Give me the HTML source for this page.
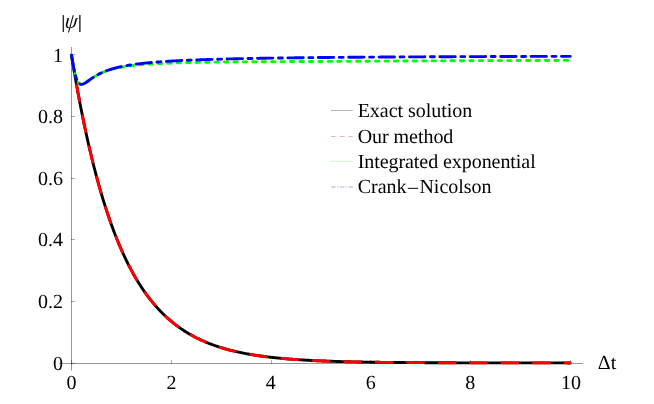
<!DOCTYPE html>
<html><head><meta charset="utf-8"><title>plot</title><style>
html,body{margin:0;padding:0;background:#fff;}
body{width:654px;height:404px;overflow:hidden;position:relative;font-family:"Liberation Serif",serif;}
svg{position:absolute;left:0;top:0;will-change:transform;}
text{font-family:"Liberation Serif",serif;font-size:20px;fill:#000;text-rendering:geometricPrecision;}
</style></head><body>
<svg width="654" height="404" viewBox="0 0 654 404">
<rect width="654" height="404" fill="#fff"/>
<g stroke="#000" stroke-opacity="0.4" stroke-width="1" fill="none">
<line x1="59" y1="363.5" x2="583" y2="363.5"/>
<line x1="71.5" y1="47" x2="71.5" y2="370.6"/>
</g>
<g stroke="#000" stroke-opacity="0.33" stroke-width="1" fill="none">
<line x1="71.5" y1="364" x2="71.5" y2="360"/><line x1="171.5" y1="364" x2="171.5" y2="360"/><line x1="271.5" y1="364" x2="271.5" y2="360"/><line x1="370.5" y1="364" x2="370.5" y2="360"/><line x1="470.5" y1="364" x2="470.5" y2="360"/><line x1="570.5" y1="364" x2="570.5" y2="360"/>
<line x1="71" y1="363.5" x2="75" y2="363.5"/><line x1="71" y1="301.5" x2="75" y2="301.5"/><line x1="71" y1="239.5" x2="75" y2="239.5"/><line x1="71" y1="178.5" x2="75" y2="178.5"/><line x1="71" y1="116.5" x2="75" y2="116.5"/><line x1="71" y1="54.5" x2="75" y2="54.5"/>
</g>
<g fill="none" stroke-width="2.88" stroke-linecap="round" stroke-linejoin="round">
<path d="M71.50 55.10 L71.50 55.11 L71.51 55.15 L71.52 55.21 L71.53 55.30 L71.55 55.41 L71.57 55.54 L71.60 55.71 L71.63 55.89 L71.66 56.10 L71.70 56.33 L71.74 56.59 L71.79 56.88 L71.84 57.18 L71.89 57.51 L71.95 57.87 L72.01 58.25 L72.08 58.65 L72.15 59.08 L72.22 59.53 L72.30 60.01 L72.38 60.50 L72.47 61.03 L72.56 61.57 L72.65 62.14 L72.75 62.73 L72.85 63.35 L72.96 63.98 L73.07 64.64 L73.18 65.32 L73.30 66.03 L73.43 66.75 L73.55 67.50 L73.68 68.27 L73.82 69.07 L73.95 69.88 L74.10 70.71 L74.24 71.57 L74.39 72.44 L74.55 73.34 L74.71 74.26 L74.87 75.20 L75.03 76.15 L75.20 77.13 L75.38 78.13 L75.56 79.14 L75.74 80.18 L75.93 81.23 L76.12 82.31 L76.31 83.40 L76.51 84.51 L76.71 85.63 L76.92 86.78 L77.13 87.94 L77.34 89.12 L77.56 90.32 L77.78 91.53 L78.01 92.76 L78.24 94.00 L78.47 95.26 L78.71 96.54 L78.95 97.83 L79.20 99.14 L79.45 100.46 L79.71 101.79 L79.96 103.14 L80.23 104.51 L80.49 105.88 L80.76 107.27 L81.04 108.68 L81.32 110.09 L81.60 111.52 L81.88 112.96 L82.18 114.41 L82.47 115.87 L82.77 117.35 L83.07 118.83 L83.38 120.33 L83.69 121.83 L84.00 123.35 L84.32 124.88 L84.64 126.41 L84.97 127.95 L85.30 129.50 L85.63 131.07 L85.97 132.63 L86.32 134.21 L86.66 135.79 L87.01 137.38 L87.37 138.98 L87.73 140.59 L88.09 142.20 L88.46 143.81 L88.83 145.44 L89.20 147.06 L89.58 148.70 L89.96 150.33 L90.35 151.97 L90.74 153.62 L91.13 155.27 L91.53 156.92 L91.93 158.58 L92.34 160.24 L92.75 161.90 L93.17 163.57 L93.59 165.23 L94.01 166.90 L94.43 168.57 L94.87 170.24 L95.30 171.91 L95.74 173.59 L96.18 175.26 L96.63 176.93 L97.08 178.61 L97.53 180.28 L97.99 181.95 L98.46 183.62 L98.92 185.29 L99.39 186.96 L99.87 188.63 L100.35 190.29 L100.83 191.96 L101.32 193.62 L101.81 195.28 L102.30 196.93 L102.80 198.58 L103.30 200.23 L103.81 201.88 L104.32 203.52 L104.84 205.15 L105.35 206.79 L105.88 208.42 L106.40 210.04 L106.93 211.66 L107.47 213.27 L108.01 214.88 L108.55 216.48 L109.10 218.08 L109.65 219.67 L110.20 221.26 L110.76 222.83 L111.33 224.41 L111.89 225.97 L112.46 227.53 L113.04 229.08 L113.62 230.63 L114.20 232.17 L114.79 233.70 L115.38 235.22 L115.97 236.73 L116.57 238.24 L117.18 239.74 L117.78 241.23 L118.39 242.71 L119.01 244.18 L119.63 245.65 L120.25 247.10 L120.88 248.55 L121.51 249.99 L122.14 251.42 L122.78 252.84 L123.43 254.25 L124.07 255.65 L124.72 257.04 L125.38 258.42 L126.04 259.79 L126.70 261.16 L127.37 262.51 L128.04 263.85 L128.71 265.18 L129.39 266.50 L130.08 267.82 L130.76 269.12 L131.45 270.41 L132.15 271.69 L132.85 272.96 L133.55 274.22 L134.26 275.47 L134.97 276.71 L135.68 277.93 L136.40 279.15 L137.13 280.36 L137.85 281.55 L138.59 282.74 L139.32 283.91 L140.06 285.07 L140.80 286.23 L141.55 287.37 L142.30 288.50 L143.06 289.61 L143.82 290.72 L144.58 291.82 L145.35 292.91 L146.12 293.98 L146.89 295.04 L147.67 296.10 L148.46 297.14 L149.24 298.17 L150.03 299.19 L150.83 300.20 L151.63 301.19 L152.43 302.18 L153.24 303.16 L154.05 304.12 L154.87 305.07 L155.68 306.02 L156.51 306.95 L157.34 307.87 L158.17 308.78 L159.00 309.68 L159.84 310.57 L160.68 311.45 L161.53 312.32 L162.38 313.17 L163.24 314.02 L164.10 314.85 L164.96 315.68 L165.83 316.49 L166.70 317.30 L167.58 318.09 L168.46 318.88 L169.34 319.65 L170.23 320.41 L171.12 321.17 L172.01 321.91 L172.91 322.64 L173.82 323.37 L174.72 324.08 L175.63 324.79 L176.55 325.48 L177.47 326.16 L178.39 326.84 L179.32 327.50 L180.25 328.16 L181.19 328.81 L182.13 329.44 L183.07 330.07 L184.02 330.69 L184.97 331.30 L185.93 331.90 L186.88 332.49 L187.85 333.07 L188.82 333.65 L189.79 334.21 L190.76 334.77 L191.74 335.32 L192.73 335.86 L193.71 336.39 L194.71 336.91 L195.70 337.43 L196.70 337.93 L197.70 338.43 L198.71 338.92 L199.72 339.40 L200.74 339.88 L201.76 340.34 L202.78 340.80 L203.81 341.26 L204.84 341.70 L205.88 342.14 L206.92 342.57 L207.96 342.99 L209.01 343.40 L210.06 343.81 L211.12 344.21 L212.18 344.61 L213.24 344.99 L214.31 345.37 L215.38 345.75 L216.45 346.11 L217.53 346.47 L218.62 346.83 L219.71 347.18 L220.80 347.52 L221.89 347.85 L222.99 348.18 L224.10 348.51 L225.20 348.82 L226.32 349.13 L227.43 349.44 L228.55 349.74 L229.68 350.03 L230.80 350.32 L231.93 350.61 L233.07 350.88 L234.21 351.16 L235.35 351.42 L236.50 351.69 L237.65 351.94 L238.81 352.20 L239.97 352.44 L241.13 352.68 L242.30 352.92 L243.47 353.15 L244.65 353.38 L245.83 353.61 L247.01 353.83 L248.20 354.04 L249.39 354.25 L250.59 354.46 L251.79 354.66 L252.99 354.86 L254.20 355.05 L255.41 355.24 L256.63 355.43 L257.85 355.61 L259.07 355.79 L260.30 355.96 L261.53 356.13 L262.77 356.30 L264.01 356.46 L265.25 356.62 L266.50 356.78 L267.75 356.93 L269.01 357.08 L270.27 357.23 L271.53 357.37 L272.80 357.51 L274.07 357.65 L275.35 357.78 L276.63 357.91 L277.91 358.04 L279.20 358.16 L280.49 358.29 L281.79 358.41 L283.09 358.52 L284.39 358.64 L285.70 358.75 L287.01 358.86 L288.33 358.96 L289.65 359.07 L290.97 359.17 L292.30 359.27 L293.63 359.37 L294.97 359.46 L296.31 359.55 L297.65 359.64 L299.00 359.73 L300.35 359.82 L301.71 359.90 L303.07 359.98 L304.43 360.06 L305.80 360.14 L307.18 360.22 L308.55 360.29 L309.93 360.37 L311.32 360.44 L312.70 360.51 L314.10 360.57 L315.49 360.64 L316.89 360.70 L318.30 360.76 L319.71 360.83 L321.12 360.88 L322.53 360.94 L323.95 361.00 L325.38 361.05 L326.81 361.11 L328.24 361.16 L329.68 361.21 L331.12 361.26 L332.56 361.31 L334.01 361.36 L335.46 361.40 L336.92 361.45 L338.38 361.49 L339.84 361.53 L341.31 361.57 L342.78 361.61 L344.26 361.65 L345.74 361.69 L347.22 361.73 L348.71 361.76 L350.20 361.80 L351.70 361.83 L353.20 361.86 L354.71 361.90 L356.21 361.93 L357.73 361.96 L359.24 361.99 L360.76 362.02 L362.29 362.05 L363.82 362.07 L365.35 362.10 L366.88 362.12 L368.43 362.15 L369.97 362.17 L371.52 362.20 L373.07 362.22 L374.63 362.24 L376.19 362.27 L377.75 362.29 L379.32 362.31 L380.89 362.33 L382.47 362.35 L384.05 362.37 L385.63 362.38 L387.22 362.40 L388.82 362.42 L390.41 362.44 L392.01 362.45 L393.62 362.47 L395.23 362.48 L396.84 362.50 L398.46 362.51 L400.08 362.53 L401.70 362.54 L403.33 362.55 L404.96 362.57 L406.60 362.58 L408.24 362.59 L409.88 362.60 L411.53 362.61 L413.18 362.62 L414.84 362.63 L416.50 362.64 L418.17 362.65 L419.84 362.66 L421.51 362.67 L423.18 362.68 L424.87 362.69 L426.55 362.70 L428.24 362.71 L429.93 362.72 L431.63 362.72 L433.33 362.73 L435.03 362.74 L436.74 362.75 L438.46 362.75 L440.17 362.76 L441.89 362.77 L443.62 362.77 L445.35 362.78 L447.08 362.78 L448.82 362.79 L450.56 362.80 L452.30 362.80 L454.05 362.81 L455.80 362.81 L457.56 362.82 L459.32 362.82 L461.09 362.83 L462.85 362.83 L464.63 362.83 L466.40 362.84 L468.18 362.84 L469.97 362.85 L471.76 362.85 L473.55 362.85 L475.35 362.86 L477.15 362.86 L478.95 362.86 L480.76 362.87 L482.58 362.87 L484.39 362.87 L486.21 362.87 L488.04 362.88 L489.87 362.88 L491.70 362.88 L493.54 362.88 L495.38 362.89 L497.22 362.89 L499.07 362.89 L500.93 362.89 L502.78 362.90 L504.64 362.90 L506.51 362.90 L508.38 362.90 L510.25 362.90 L512.13 362.91 L514.01 362.91 L515.89 362.91 L517.78 362.91 L519.68 362.91 L521.57 362.91 L523.47 362.91 L525.38 362.92 L527.29 362.92 L529.20 362.92 L531.12 362.92 L533.04 362.92 L534.96 362.92 L536.89 362.92 L538.83 362.92 L540.76 362.92 L542.70 362.93 L544.65 362.93 L546.60 362.93 L548.55 362.93 L550.51 362.93 L552.47 362.93 L554.43 362.93 L556.40 362.93 L558.38 362.93 L560.35 362.93 L562.34 362.93 L564.32 362.93 L566.31 362.93 L568.30 362.94 L570.30 362.94" stroke="#000" stroke-linecap="butt"/>
<path d="M71.50 55.10 L71.50 55.11 L71.51 55.15 L71.52 55.21 L71.53 55.30 L71.55 55.41 L71.57 55.54 L71.60 55.71 L71.63 55.89 L71.66 56.10 L71.70 56.33 L71.74 56.59 L71.79 56.88 L71.84 57.18 L71.89 57.51 L71.95 57.87 L72.01 58.25 L72.08 58.65 L72.15 59.08 L72.22 59.53 L72.30 60.01 L72.38 60.50 L72.47 61.03 L72.56 61.57 L72.65 62.14 L72.75 62.73 L72.85 63.35 L72.96 63.98 L73.07 64.64 L73.18 65.32 L73.30 66.03 L73.43 66.75 L73.55 67.50 L73.68 68.27 L73.82 69.07 L73.95 69.88 L74.10 70.71 L74.24 71.57 L74.39 72.44 L74.55 73.34 L74.71 74.26 L74.87 75.20 L75.03 76.15 L75.20 77.13 L75.38 78.13 L75.56 79.14 L75.74 80.18 L75.93 81.23 L76.12 82.31 L76.31 83.40 L76.51 84.51 L76.71 85.63 L76.92 86.78 L77.13 87.94 L77.34 89.12 L77.56 90.32 L77.78 91.53 L78.01 92.76 L78.24 94.00 L78.47 95.26 L78.71 96.54 L78.95 97.83 L79.20 99.14 L79.45 100.46 L79.71 101.79 L79.96 103.14 L80.23 104.51 L80.49 105.88 L80.76 107.27 L81.04 108.68 L81.32 110.09 L81.60 111.52 L81.88 112.96 L82.18 114.41 L82.47 115.87 L82.77 117.35 L83.07 118.83 L83.38 120.33 L83.69 121.83 L84.00 123.35 L84.32 124.88 L84.64 126.41 L84.97 127.95 L85.30 129.50 L85.63 131.07 L85.97 132.63 L86.32 134.21 L86.66 135.79 L87.01 137.38 L87.37 138.98 L87.73 140.59 L88.09 142.20 L88.46 143.81 L88.83 145.44 L89.20 147.06 L89.58 148.70 L89.96 150.33 L90.35 151.97 L90.74 153.62 L91.13 155.27 L91.53 156.92 L91.93 158.58 L92.34 160.24 L92.75 161.90 L93.17 163.57 L93.59 165.23 L94.01 166.90 L94.43 168.57 L94.87 170.24 L95.30 171.91 L95.74 173.59 L96.18 175.26 L96.63 176.93 L97.08 178.61 L97.53 180.28 L97.99 181.95 L98.46 183.62 L98.92 185.29 L99.39 186.96 L99.87 188.63 L100.35 190.29 L100.83 191.96 L101.32 193.62 L101.81 195.28 L102.30 196.93 L102.80 198.58 L103.30 200.23 L103.81 201.88 L104.32 203.52 L104.84 205.15 L105.35 206.79 L105.88 208.42 L106.40 210.04 L106.93 211.66 L107.47 213.27 L108.01 214.88 L108.55 216.48 L109.10 218.08 L109.65 219.67 L110.20 221.26 L110.76 222.83 L111.33 224.41 L111.89 225.97 L112.46 227.53 L113.04 229.08 L113.62 230.63 L114.20 232.17 L114.79 233.70 L115.38 235.22 L115.97 236.73 L116.57 238.24 L117.18 239.74 L117.78 241.23 L118.39 242.71 L119.01 244.18 L119.63 245.65 L120.25 247.10 L120.88 248.55 L121.51 249.99 L122.14 251.42 L122.78 252.84 L123.43 254.25 L124.07 255.65 L124.72 257.04 L125.38 258.42 L126.04 259.79 L126.70 261.16 L127.37 262.51 L128.04 263.85 L128.71 265.18 L129.39 266.50 L130.08 267.82 L130.76 269.12 L131.45 270.41 L132.15 271.69 L132.85 272.96 L133.55 274.22 L134.26 275.47 L134.97 276.71 L135.68 277.93 L136.40 279.15 L137.13 280.36 L137.85 281.55 L138.59 282.74 L139.32 283.91 L140.06 285.07 L140.80 286.23 L141.55 287.37 L142.30 288.50 L143.06 289.61 L143.82 290.72 L144.58 291.82 L145.35 292.91 L146.12 293.98 L146.89 295.04 L147.67 296.10 L148.46 297.14 L149.24 298.17 L150.03 299.19 L150.83 300.20 L151.63 301.19 L152.43 302.18 L153.24 303.16 L154.05 304.12 L154.87 305.07 L155.68 306.02 L156.51 306.95 L157.34 307.87 L158.17 308.78 L159.00 309.68 L159.84 310.57 L160.68 311.45 L161.53 312.32 L162.38 313.17 L163.24 314.02 L164.10 314.85 L164.96 315.68 L165.83 316.49 L166.70 317.30 L167.58 318.09 L168.46 318.88 L169.34 319.65 L170.23 320.41 L171.12 321.17 L172.01 321.91 L172.91 322.64 L173.82 323.37 L174.72 324.08 L175.63 324.79 L176.55 325.48 L177.47 326.16 L178.39 326.84 L179.32 327.50 L180.25 328.16 L181.19 328.81 L182.13 329.44 L183.07 330.07 L184.02 330.69 L184.97 331.30 L185.93 331.90 L186.88 332.49 L187.85 333.07 L188.82 333.65 L189.79 334.21 L190.76 334.77 L191.74 335.32 L192.73 335.86 L193.71 336.39 L194.71 336.91 L195.70 337.43 L196.70 337.93 L197.70 338.43 L198.71 338.92 L199.72 339.40 L200.74 339.88 L201.76 340.34 L202.78 340.80 L203.81 341.26 L204.84 341.70 L205.88 342.14 L206.92 342.57 L207.96 342.99 L209.01 343.40 L210.06 343.81 L211.12 344.21 L212.18 344.61 L213.24 344.99 L214.31 345.37 L215.38 345.75 L216.45 346.11 L217.53 346.47 L218.62 346.83 L219.71 347.18 L220.80 347.52 L221.89 347.85 L222.99 348.18 L224.10 348.51 L225.20 348.82 L226.32 349.13 L227.43 349.44 L228.55 349.74 L229.68 350.03 L230.80 350.32 L231.93 350.61 L233.07 350.88 L234.21 351.16 L235.35 351.42 L236.50 351.69 L237.65 351.94 L238.81 352.20 L239.97 352.44 L241.13 352.68 L242.30 352.92 L243.47 353.15 L244.65 353.38 L245.83 353.61 L247.01 353.83 L248.20 354.04 L249.39 354.25 L250.59 354.46 L251.79 354.66 L252.99 354.86 L254.20 355.05 L255.41 355.24 L256.63 355.43 L257.85 355.61 L259.07 355.79 L260.30 355.96 L261.53 356.13 L262.77 356.30 L264.01 356.46 L265.25 356.62 L266.50 356.78 L267.75 356.93 L269.01 357.08 L270.27 357.23 L271.53 357.37 L272.80 357.51 L274.07 357.65 L275.35 357.78 L276.63 357.91 L277.91 358.04 L279.20 358.16 L280.49 358.29 L281.79 358.41 L283.09 358.52 L284.39 358.64 L285.70 358.75 L287.01 358.86 L288.33 358.96 L289.65 359.07 L290.97 359.17 L292.30 359.27 L293.63 359.37 L294.97 359.46 L296.31 359.55 L297.65 359.64 L299.00 359.73 L300.35 359.82 L301.71 359.90 L303.07 359.98 L304.43 360.06 L305.80 360.14 L307.18 360.22 L308.55 360.29 L309.93 360.37 L311.32 360.44 L312.70 360.51 L314.10 360.57 L315.49 360.64 L316.89 360.70 L318.30 360.76 L319.71 360.83 L321.12 360.88 L322.53 360.94 L323.95 361.00 L325.38 361.05 L326.81 361.11 L328.24 361.16 L329.68 361.21 L331.12 361.26 L332.56 361.31 L334.01 361.36 L335.46 361.40 L336.92 361.45 L338.38 361.49 L339.84 361.53 L341.31 361.57 L342.78 361.61 L344.26 361.65 L345.74 361.69 L347.22 361.73 L348.71 361.76 L350.20 361.80 L351.70 361.83 L353.20 361.86 L354.71 361.90 L356.21 361.93 L357.73 361.96 L359.24 361.99 L360.76 362.02 L362.29 362.05 L363.82 362.07 L365.35 362.10 L366.88 362.12 L368.43 362.15 L369.97 362.17 L371.52 362.20 L373.07 362.22 L374.63 362.24 L376.19 362.27 L377.75 362.29 L379.32 362.31 L380.89 362.33 L382.47 362.35 L384.05 362.37 L385.63 362.38 L387.22 362.40 L388.82 362.42 L390.41 362.44 L392.01 362.45 L393.62 362.47 L395.23 362.48 L396.84 362.50 L398.46 362.51 L400.08 362.53 L401.70 362.54 L403.33 362.55 L404.96 362.57 L406.60 362.58 L408.24 362.59 L409.88 362.60 L411.53 362.61 L413.18 362.62 L414.84 362.63 L416.50 362.64 L418.17 362.65 L419.84 362.66 L421.51 362.67 L423.18 362.68 L424.87 362.69 L426.55 362.70 L428.24 362.71 L429.93 362.72 L431.63 362.72 L433.33 362.73 L435.03 362.74 L436.74 362.75 L438.46 362.75 L440.17 362.76 L441.89 362.77 L443.62 362.77 L445.35 362.78 L447.08 362.78 L448.82 362.79 L450.56 362.80 L452.30 362.80 L454.05 362.81 L455.80 362.81 L457.56 362.82 L459.32 362.82 L461.09 362.83 L462.85 362.83 L464.63 362.83 L466.40 362.84 L468.18 362.84 L469.97 362.85 L471.76 362.85 L473.55 362.85 L475.35 362.86 L477.15 362.86 L478.95 362.86 L480.76 362.87 L482.58 362.87 L484.39 362.87 L486.21 362.87 L488.04 362.88 L489.87 362.88 L491.70 362.88 L493.54 362.88 L495.38 362.89 L497.22 362.89 L499.07 362.89 L500.93 362.89 L502.78 362.90 L504.64 362.90 L506.51 362.90 L508.38 362.90 L510.25 362.90 L512.13 362.91 L514.01 362.91 L515.89 362.91 L517.78 362.91 L519.68 362.91 L521.57 362.91 L523.47 362.91 L525.38 362.92 L527.29 362.92 L529.20 362.92 L531.12 362.92 L533.04 362.92 L534.96 362.92 L536.89 362.92 L538.83 362.92 L540.76 362.92 L542.70 362.93 L544.65 362.93 L546.60 362.93 L548.55 362.93 L550.51 362.93 L552.47 362.93 L554.43 362.93 L556.40 362.93 L558.38 362.93 L560.35 362.93 L562.34 362.93 L564.32 362.93 L566.31 362.93 L568.30 362.94 L570.30 362.94" stroke="#f00" stroke-dasharray="15.8 15.67" stroke-dashoffset="1.1"/>
<path d="M71.50 55.10 L71.50 55.11 L71.51 55.15 L71.52 55.21 L71.53 55.30 L71.55 55.41 L71.57 55.54 L71.60 55.71 L71.63 55.89 L71.66 56.10 L71.70 56.33 L71.74 56.59 L71.79 56.87 L71.84 57.18 L71.89 57.51 L71.95 57.86 L72.01 58.24 L72.08 58.64 L72.15 59.06 L72.22 59.51 L72.30 59.97 L72.38 60.46 L72.47 60.97 L72.56 61.50 L72.65 62.05 L72.75 62.61 L72.85 63.20 L72.96 63.80 L73.07 64.42 L73.18 65.05 L73.30 65.69 L73.43 66.35 L73.55 67.01 L73.68 67.69 L73.82 68.37 L73.95 69.06 L74.10 69.75 L74.24 70.44 L74.39 71.14 L74.55 71.83 L74.71 72.52 L74.87 73.21 L75.03 73.88 L75.20 74.55 L75.38 75.21 L75.56 75.86 L75.74 76.49 L75.93 77.10 L76.12 77.70 L76.31 78.27 L76.51 78.83 L76.71 79.36 L76.92 79.87 L77.13 80.35 L77.34 80.81 L77.56 81.24 L77.78 81.64 L78.01 82.02 L78.24 82.37 L78.47 82.69 L78.71 82.98 L78.95 83.24 L79.20 83.47 L79.45 83.67 L79.71 83.85 L79.96 84.00 L80.23 84.12 L80.49 84.21 L80.76 84.28 L81.04 84.33 L81.32 84.35 L81.60 84.35 L81.88 84.32 L82.18 84.28 L82.47 84.21 L82.77 84.13 L83.07 84.03 L83.38 83.91 L83.69 83.77 L84.00 83.62 L84.32 83.46 L84.64 83.28 L84.97 83.09 L85.30 82.90 L85.63 82.69 L85.97 82.47 L86.32 82.24 L86.66 82.01 L87.01 81.77 L87.37 81.52 L87.73 81.27 L88.09 81.01 L88.46 80.75 L88.83 80.49 L89.20 80.22 L89.58 79.95 L89.96 79.68 L90.35 79.41 L90.74 79.14 L91.13 78.86 L91.53 78.59 L91.93 78.32 L92.34 78.04 L92.75 77.77 L93.17 77.50 L93.59 77.23 L94.01 76.96 L94.43 76.70 L94.87 76.43 L95.30 76.17 L95.74 75.91 L96.18 75.65 L96.63 75.40 L97.08 75.14 L97.53 74.89 L97.99 74.65 L98.46 74.40 L98.92 74.16 L99.39 73.93 L99.87 73.69 L100.35 73.46 L100.83 73.23 L101.32 73.01 L101.81 72.79 L102.30 72.57 L102.80 72.36 L103.30 72.15 L103.81 71.94 L104.32 71.74 L104.84 71.54 L105.35 71.34 L105.88 71.15 L106.40 70.96 L106.93 70.77 L107.47 70.59 L108.01 70.41 L108.55 70.24 L109.10 70.07 L109.65 69.90 L110.20 69.74 L110.76 69.58 L111.33 69.42 L111.89 69.26 L112.46 69.11 L113.04 68.96 L113.62 68.82 L114.20 68.68 L114.79 68.54 L115.38 68.40 L115.97 68.27 L116.57 68.14 L117.18 68.01 L117.78 67.88 L118.39 67.76 L119.01 67.64 L119.63 67.52 L120.25 67.40 L120.88 67.29 L121.51 67.18 L122.14 67.07 L122.78 66.96 L123.43 66.86 L124.07 66.76 L124.72 66.66 L125.38 66.56 L126.04 66.46 L126.70 66.37 L127.37 66.27 L128.04 66.18 L128.71 66.09 L129.39 66.00 L130.08 65.92 L130.76 65.83 L131.45 65.75 L132.15 65.67 L132.85 65.59 L133.55 65.51 L134.26 65.43 L134.97 65.36 L135.68 65.29 L136.40 65.21 L137.13 65.14 L137.85 65.07 L138.59 65.00 L139.32 64.94 L140.06 64.87 L140.80 64.81 L141.55 64.74 L142.30 64.68 L143.06 64.62 L143.82 64.56 L144.58 64.50 L145.35 64.45 L146.12 64.39 L146.89 64.33 L147.67 64.28 L148.46 64.23 L149.24 64.18 L150.03 64.12 L150.83 64.07 L151.63 64.02 L152.43 63.98 L153.24 63.93 L154.05 63.88 L154.87 63.84 L155.68 63.79 L156.51 63.75 L157.34 63.71 L158.17 63.66 L159.00 63.62 L159.84 63.58 L160.68 63.54 L161.53 63.50 L162.38 63.46 L163.24 63.43 L164.10 63.39 L164.96 63.35 L165.83 63.32 L166.70 63.28 L167.58 63.25 L168.46 63.21 L169.34 63.18 L170.23 63.15 L171.12 63.12 L172.01 63.08 L172.91 63.05 L173.82 63.02 L174.72 62.99 L175.63 62.97 L176.55 62.94 L177.47 62.91 L178.39 62.88 L179.32 62.85 L180.25 62.83 L181.19 62.80 L182.13 62.78 L183.07 62.75 L184.02 62.73 L184.97 62.70 L185.93 62.68 L186.88 62.66 L187.85 62.63 L188.82 62.61 L189.79 62.59 L190.76 62.57 L191.74 62.55 L192.73 62.52 L193.71 62.50 L194.71 62.48 L195.70 62.46 L196.70 62.44 L197.70 62.43 L198.71 62.41 L199.72 62.39 L200.74 62.37 L201.76 62.35 L202.78 62.33 L203.81 62.32 L204.84 62.30 L205.88 62.28 L206.92 62.27 L207.96 62.25 L209.01 62.24 L210.06 62.22 L211.12 62.21 L212.18 62.19 L213.24 62.18 L214.31 62.16 L215.38 62.15 L216.45 62.13 L217.53 62.12 L218.62 62.11 L219.71 62.09 L220.80 62.08 L221.89 62.07 L222.99 62.05 L224.10 62.04 L225.20 62.03 L226.32 62.02 L227.43 62.00 L228.55 61.99 L229.68 61.98 L230.80 61.97 L231.93 61.96 L233.07 61.95 L234.21 61.94 L235.35 61.93 L236.50 61.91 L237.65 61.90 L238.81 61.89 L239.97 61.88 L241.13 61.87 L242.30 61.86 L243.47 61.85 L244.65 61.84 L245.83 61.83 L247.01 61.83 L248.20 61.82 L249.39 61.81 L250.59 61.80 L251.79 61.79 L252.99 61.78 L254.20 61.77 L255.41 61.76 L256.63 61.76 L257.85 61.75 L259.07 61.74 L260.30 61.73 L261.53 61.72 L262.77 61.71 L264.01 61.71 L265.25 61.70 L266.50 61.69 L267.75 61.68 L269.01 61.68 L270.27 61.67 L271.53 61.66 L272.80 61.66 L274.07 61.65 L275.35 61.64 L276.63 61.63 L277.91 61.63 L279.20 61.62 L280.49 61.61 L281.79 61.61 L283.09 61.60 L284.39 61.59 L285.70 61.59 L287.01 61.58 L288.33 61.57 L289.65 61.57 L290.97 61.56 L292.30 61.56 L293.63 61.55 L294.97 61.54 L296.31 61.54 L297.65 61.53 L299.00 61.52 L300.35 61.52 L301.71 61.51 L303.07 61.51 L304.43 61.50 L305.80 61.50 L307.18 61.49 L308.55 61.48 L309.93 61.48 L311.32 61.47 L312.70 61.47 L314.10 61.46 L315.49 61.46 L316.89 61.45 L318.30 61.45 L319.71 61.44 L321.12 61.44 L322.53 61.43 L323.95 61.42 L325.38 61.42 L326.81 61.41 L328.24 61.41 L329.68 61.40 L331.12 61.40 L332.56 61.39 L334.01 61.39 L335.46 61.38 L336.92 61.38 L338.38 61.37 L339.84 61.37 L341.31 61.36 L342.78 61.36 L344.26 61.35 L345.74 61.35 L347.22 61.34 L348.71 61.34 L350.20 61.33 L351.70 61.33 L353.20 61.32 L354.71 61.32 L356.21 61.31 L357.73 61.30 L359.24 61.29 L360.76 61.28 L362.29 61.27 L363.82 61.26 L365.35 61.25 L366.88 61.24 L368.43 61.23 L369.97 61.22 L371.52 61.20 L373.07 61.19 L374.63 61.18 L376.19 61.17 L377.75 61.16 L379.32 61.15 L380.89 61.14 L382.47 61.13 L384.05 61.12 L385.63 61.11 L387.22 61.11 L388.82 61.10 L390.41 61.09 L392.01 61.08 L393.62 61.07 L395.23 61.06 L396.84 61.05 L398.46 61.04 L400.08 61.03 L401.70 61.02 L403.33 61.01 L404.96 61.00 L406.60 60.99 L408.24 60.99 L409.88 60.98 L411.53 60.97 L413.18 60.96 L414.84 60.95 L416.50 60.94 L418.17 60.93 L419.84 60.93 L421.51 60.92 L423.18 60.91 L424.87 60.90 L426.55 60.89 L428.24 60.89 L429.93 60.88 L431.63 60.87 L433.33 60.86 L435.03 60.85 L436.74 60.85 L438.46 60.84 L440.17 60.83 L441.89 60.82 L443.62 60.82 L445.35 60.81 L447.08 60.80 L448.82 60.79 L450.56 60.79 L452.30 60.78 L454.05 60.77 L455.80 60.76 L457.56 60.76 L459.32 60.75 L461.09 60.74 L462.85 60.74 L464.63 60.73 L466.40 60.72 L468.18 60.72 L469.97 60.71 L471.76 60.70 L473.55 60.69 L475.35 60.69 L477.15 60.68 L478.95 60.67 L480.76 60.67 L482.58 60.66 L484.39 60.66 L486.21 60.65 L488.04 60.64 L489.87 60.64 L491.70 60.63 L493.54 60.62 L495.38 60.62 L497.22 60.61 L499.07 60.61 L500.93 60.60 L502.78 60.59 L504.64 60.59 L506.51 60.58 L508.38 60.57 L510.25 60.57 L512.13 60.56 L514.01 60.56 L515.89 60.55 L517.78 60.55 L519.68 60.54 L521.57 60.53 L523.47 60.53 L525.38 60.52 L527.29 60.52 L529.20 60.51 L531.12 60.51 L533.04 60.50 L534.96 60.50 L536.89 60.49 L538.83 60.48 L540.76 60.48 L542.70 60.47 L544.65 60.47 L546.60 60.46 L548.55 60.46 L550.51 60.45 L552.47 60.45 L554.43 60.44 L556.40 60.44 L558.38 60.43 L560.35 60.43 L562.34 60.42 L564.32 60.42 L566.31 60.41 L568.30 60.41 L570.30 60.40" stroke="#0f0" stroke-dasharray="3.4 6.04"/>
<path d="M71.50 55.10 L71.50 55.11 L71.51 55.15 L71.52 55.21 L71.53 55.30 L71.55 55.41 L71.57 55.54 L71.60 55.71 L71.63 55.89 L71.66 56.10 L71.70 56.33 L71.74 56.59 L71.79 56.87 L71.84 57.18 L71.89 57.51 L71.95 57.86 L72.01 58.24 L72.08 58.64 L72.15 59.06 L72.22 59.51 L72.30 59.97 L72.38 60.46 L72.47 60.97 L72.56 61.50 L72.65 62.05 L72.75 62.61 L72.85 63.20 L72.96 63.80 L73.07 64.42 L73.18 65.05 L73.30 65.69 L73.43 66.35 L73.55 67.01 L73.68 67.69 L73.82 68.37 L73.95 69.06 L74.10 69.75 L74.24 70.44 L74.39 71.14 L74.55 71.83 L74.71 72.52 L74.87 73.21 L75.03 73.88 L75.20 74.55 L75.38 75.21 L75.56 75.86 L75.74 76.49 L75.93 77.10 L76.12 77.70 L76.31 78.27 L76.51 78.83 L76.71 79.36 L76.92 79.87 L77.13 80.35 L77.34 80.81 L77.56 81.24 L77.78 81.64 L78.01 82.02 L78.24 82.37 L78.47 82.69 L78.71 82.98 L78.95 83.24 L79.20 83.47 L79.45 83.67 L79.71 83.85 L79.96 84.00 L80.23 84.12 L80.49 84.21 L80.76 84.28 L81.04 84.33 L81.32 84.35 L81.60 84.35 L81.88 84.32 L82.18 84.28 L82.47 84.21 L82.77 84.13 L83.07 84.02 L83.38 83.90 L83.69 83.77 L84.00 83.62 L84.32 83.46 L84.64 83.28 L84.97 83.09 L85.30 82.89 L85.63 82.68 L85.97 82.47 L86.32 82.24 L86.66 82.00 L87.01 81.76 L87.37 81.52 L87.73 81.26 L88.09 81.01 L88.46 80.75 L88.83 80.48 L89.20 80.22 L89.58 79.95 L89.96 79.68 L90.35 79.40 L90.74 79.13 L91.13 78.86 L91.53 78.58 L91.93 78.31 L92.34 78.03 L92.75 77.76 L93.17 77.49 L93.59 77.22 L94.01 76.95 L94.43 76.68 L94.87 76.41 L95.30 76.15 L95.74 75.89 L96.18 75.63 L96.63 75.37 L97.08 75.11 L97.53 74.86 L97.99 74.61 L98.46 74.37 L98.92 74.12 L99.39 73.88 L99.87 73.64 L100.35 73.41 L100.83 73.17 L101.32 72.95 L101.81 72.72 L102.30 72.50 L102.80 72.28 L103.30 72.06 L103.81 71.84 L104.32 71.63 L104.84 71.43 L105.35 71.22 L105.88 71.02 L106.40 70.82 L106.93 70.62 L107.47 70.43 L108.01 70.24 L108.55 70.05 L109.10 69.87 L109.65 69.69 L110.20 69.51 L110.76 69.33 L111.33 69.16 L111.89 68.99 L112.46 68.82 L113.04 68.65 L113.62 68.49 L114.20 68.33 L114.79 68.17 L115.38 68.01 L115.97 67.86 L116.57 67.71 L117.18 67.56 L117.78 67.42 L118.39 67.27 L119.01 67.13 L119.63 66.99 L120.25 66.85 L120.88 66.72 L121.51 66.59 L122.14 66.45 L122.78 66.33 L123.43 66.20 L124.07 66.07 L124.72 65.95 L125.38 65.83 L126.04 65.71 L126.70 65.59 L127.37 65.48 L128.04 65.36 L128.71 65.25 L129.39 65.14 L130.08 65.03 L130.76 64.93 L131.45 64.82 L132.15 64.72 L132.85 64.61 L133.55 64.51 L134.26 64.41 L134.97 64.31 L135.68 64.22 L136.40 64.12 L137.13 64.03 L137.85 63.94 L138.59 63.85 L139.32 63.76 L140.06 63.67 L140.80 63.58 L141.55 63.50 L142.30 63.41 L143.06 63.33 L143.82 63.25 L144.58 63.17 L145.35 63.09 L146.12 63.01 L146.89 62.93 L147.67 62.85 L148.46 62.78 L149.24 62.70 L150.03 62.63 L150.83 62.56 L151.63 62.49 L152.43 62.42 L153.24 62.35 L154.05 62.28 L154.87 62.21 L155.68 62.14 L156.51 62.08 L157.34 62.01 L158.17 61.95 L159.00 61.89 L159.84 61.82 L160.68 61.76 L161.53 61.70 L162.38 61.64 L163.24 61.58 L164.10 61.53 L164.96 61.47 L165.83 61.41 L166.70 61.36 L167.58 61.30 L168.46 61.25 L169.34 61.19 L170.23 61.14 L171.12 61.09 L172.01 61.03 L172.91 60.98 L173.82 60.93 L174.72 60.88 L175.63 60.83 L176.55 60.79 L177.47 60.74 L178.39 60.69 L179.32 60.64 L180.25 60.60 L181.19 60.55 L182.13 60.51 L183.07 60.46 L184.02 60.42 L184.97 60.37 L185.93 60.33 L186.88 60.29 L187.85 60.25 L188.82 60.20 L189.79 60.16 L190.76 60.12 L191.74 60.08 L192.73 60.04 L193.71 60.00 L194.71 59.97 L195.70 59.93 L196.70 59.89 L197.70 59.85 L198.71 59.82 L199.72 59.78 L200.74 59.74 L201.76 59.71 L202.78 59.67 L203.81 59.64 L204.84 59.60 L205.88 59.57 L206.92 59.53 L207.96 59.50 L209.01 59.47 L210.06 59.44 L211.12 59.40 L212.18 59.37 L213.24 59.34 L214.31 59.31 L215.38 59.28 L216.45 59.25 L217.53 59.22 L218.62 59.19 L219.71 59.16 L220.80 59.13 L221.89 59.10 L222.99 59.07 L224.10 59.04 L225.20 59.02 L226.32 58.99 L227.43 58.96 L228.55 58.93 L229.68 58.91 L230.80 58.88 L231.93 58.85 L233.07 58.83 L234.21 58.80 L235.35 58.78 L236.50 58.75 L237.65 58.73 L238.81 58.70 L239.97 58.68 L241.13 58.65 L242.30 58.63 L243.47 58.60 L244.65 58.58 L245.83 58.56 L247.01 58.53 L248.20 58.51 L249.39 58.49 L250.59 58.47 L251.79 58.44 L252.99 58.42 L254.20 58.40 L255.41 58.38 L256.63 58.36 L257.85 58.34 L259.07 58.32 L260.30 58.30 L261.53 58.28 L262.77 58.25 L264.01 58.23 L265.25 58.21 L266.50 58.20 L267.75 58.18 L269.01 58.16 L270.27 58.14 L271.53 58.12 L272.80 58.10 L274.07 58.08 L275.35 58.06 L276.63 58.04 L277.91 58.03 L279.20 58.01 L280.49 57.99 L281.79 57.97 L283.09 57.95 L284.39 57.94 L285.70 57.92 L287.01 57.90 L288.33 57.89 L289.65 57.87 L290.97 57.85 L292.30 57.84 L293.63 57.82 L294.97 57.80 L296.31 57.79 L297.65 57.77 L299.00 57.76 L300.35 57.74 L301.71 57.73 L303.07 57.71 L304.43 57.70 L305.80 57.68 L307.18 57.67 L308.55 57.65 L309.93 57.64 L311.32 57.62 L312.70 57.61 L314.10 57.59 L315.49 57.58 L316.89 57.56 L318.30 57.55 L319.71 57.54 L321.12 57.52 L322.53 57.51 L323.95 57.50 L325.38 57.48 L326.81 57.47 L328.24 57.46 L329.68 57.44 L331.12 57.43 L332.56 57.42 L334.01 57.40 L335.46 57.39 L336.92 57.38 L338.38 57.37 L339.84 57.35 L341.31 57.34 L342.78 57.33 L344.26 57.32 L345.74 57.31 L347.22 57.29 L348.71 57.28 L350.20 57.27 L351.70 57.26 L353.20 57.25 L354.71 57.24 L356.21 57.23 L357.73 57.21 L359.24 57.20 L360.76 57.19 L362.29 57.18 L363.82 57.17 L365.35 57.16 L366.88 57.15 L368.43 57.14 L369.97 57.13 L371.52 57.12 L373.07 57.11 L374.63 57.10 L376.19 57.09 L377.75 57.08 L379.32 57.07 L380.89 57.06 L382.47 57.05 L384.05 57.04 L385.63 57.03 L387.22 57.02 L388.82 57.01 L390.41 57.00 L392.01 56.99 L393.62 56.98 L395.23 56.97 L396.84 56.96 L398.46 56.95 L400.08 56.94 L401.70 56.93 L403.33 56.93 L404.96 56.92 L406.60 56.91 L408.24 56.90 L409.88 56.89 L411.53 56.88 L413.18 56.87 L414.84 56.86 L416.50 56.86 L418.17 56.85 L419.84 56.84 L421.51 56.83 L423.18 56.82 L424.87 56.81 L426.55 56.81 L428.24 56.80 L429.93 56.79 L431.63 56.78 L433.33 56.77 L435.03 56.77 L436.74 56.76 L438.46 56.75 L440.17 56.74 L441.89 56.74 L443.62 56.73 L445.35 56.72 L447.08 56.71 L448.82 56.71 L450.56 56.70 L452.30 56.69 L454.05 56.68 L455.80 56.68 L457.56 56.67 L459.32 56.66 L461.09 56.66 L462.85 56.65 L464.63 56.64 L466.40 56.64 L468.18 56.63 L469.97 56.62 L471.76 56.61 L473.55 56.61 L475.35 56.60 L477.15 56.59 L478.95 56.59 L480.76 56.58 L482.58 56.57 L484.39 56.57 L486.21 56.56 L488.04 56.56 L489.87 56.55 L491.70 56.54 L493.54 56.54 L495.38 56.53 L497.22 56.52 L499.07 56.52 L500.93 56.51 L502.78 56.51 L504.64 56.50 L506.51 56.49 L508.38 56.49 L510.25 56.48 L512.13 56.48 L514.01 56.47 L515.89 56.46 L517.78 56.46 L519.68 56.45 L521.57 56.45 L523.47 56.44 L525.38 56.44 L527.29 56.43 L529.20 56.43 L531.12 56.42 L533.04 56.41 L534.96 56.41 L536.89 56.40 L538.83 56.40 L540.76 56.39 L542.70 56.39 L544.65 56.38 L546.60 56.38 L548.55 56.37 L550.51 56.37 L552.47 56.36 L554.43 56.36 L556.40 56.35 L558.38 56.35 L560.35 56.34 L562.34 56.34 L564.32 56.33 L566.31 56.33 L568.30 56.32 L570.30 56.32" stroke="#00f" stroke-dasharray="15.4 5.58 3.9 5.52"/>
</g>
<g text-anchor="middle">
<text x="71.5" y="388.6">0</text><text x="171.4" y="388.6">2</text><text x="270.8" y="388.6">4</text><text x="370.65" y="388.6">6</text><text x="470.3" y="388.6">8</text><text x="570.9" y="388.6">10</text>
</g>
<g text-anchor="end">
<text x="62.95" y="369.9">0</text><text x="62.95" y="308.1">0.2</text><text x="62.95" y="246.3">0.4</text><text x="62.95" y="184.8">0.6</text><text x="62.95" y="123.1">0.8</text><text x="62.95" y="62.2">1</text>
</g>
<text x="61.45" y="27.85" style="font-size:18.4px" stroke="#000" stroke-width="0.22">|</text><text transform="translate(64.3,28.3) skewX(-6) scale(0.97,1)" style="font-size:21px;font-style:italic">ψ</text><text x="78.05" y="27.85" style="font-size:18.4px" stroke="#000" stroke-width="0.3">|</text>
<text x="597.8" y="369.2">Δt</text>
<g stroke-width="1" fill="none">
<line x1="331" y1="110.5" x2="352.8" y2="110.5" stroke="#000" stroke-opacity="0.29"/>
<line x1="331" y1="136.5" x2="352.8" y2="136.5" stroke="#f00" stroke-dasharray="4.6 4.3" stroke-opacity="0.33"/>
<line x1="331" y1="161.5" x2="351.4" y2="161.5" stroke="#0f0" stroke-dasharray="1.4 1.26" stroke-opacity="0.36"/>
<line x1="331" y1="187" x2="352.8" y2="187" stroke="#00f" stroke-dasharray="4.6 1.45 1.4 1.45" stroke-opacity="0.34"/>
</g>
<text x="357.7" y="117.3" letter-spacing="-0.04">Exact solution</text>
<text x="357.7" y="142.7" letter-spacing="-0.05">Our method</text>
<text x="357.7" y="168.0" letter-spacing="-0.065">Integrated exponential</text>
<text x="357.7" y="193.3">Crank<tspan dx="1.4">–</tspan><tspan dx="1.4">Nicolson</tspan></text>
</svg>
</body></html>
